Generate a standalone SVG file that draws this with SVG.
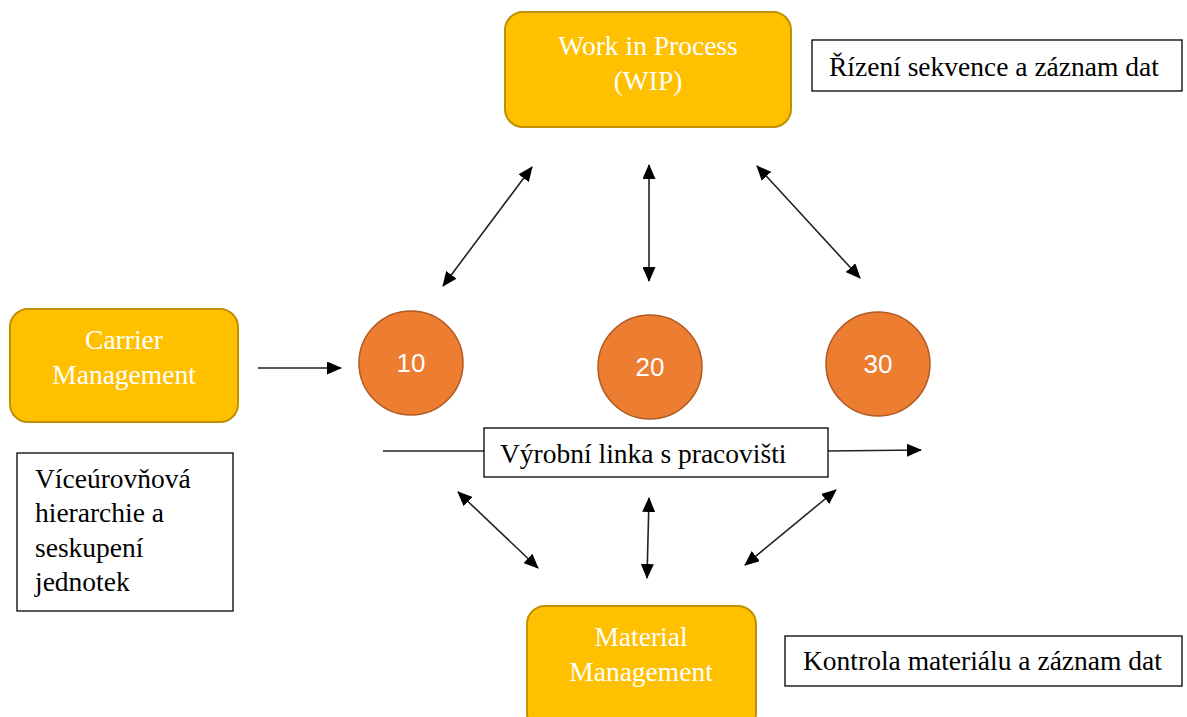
<svg xmlns="http://www.w3.org/2000/svg" width="1187" height="717" viewBox="0 0 1187 717">
  <defs>
    <marker id="head" viewBox="0 0 15 13" refX="14" refY="6.5" markerWidth="15" markerHeight="13" markerUnits="userSpaceOnUse" orient="auto-start-reverse">
      <path d="M0,0 L15,6.5 L0,13 Z" fill="#000"/>
    </marker>
    <style>
      .mod { fill: #FFC000; stroke: #BF9000; stroke-width: 2; }
      .modtxt { font-family: "Liberation Serif", "Times New Roman", serif; font-size: 27.5px; fill: #fff; text-anchor: middle; }
      .note { fill: #fff; stroke: #000; stroke-width: 1.3; }
      .notetxt { font-family: "Liberation Serif", "Times New Roman", serif; font-size: 27.5px; fill: #000; }
      .station { fill: #ED7D31; stroke: #AE5A21; stroke-width: 1.5; }
      .sttxt { font-family: "Liberation Sans", Arial, sans-serif; font-size: 26px; fill: #fff; text-anchor: middle; }
      .link { stroke: #222; stroke-width: 1.6; fill: none; }
      .two { marker-start: url(#head); marker-end: url(#head); }
      .one { marker-end: url(#head); }
    </style>
  </defs>
  <rect width="1187" height="717" fill="#fff"/>

  <!-- connectors -->
  <g id="connectors">
    <line class="link two" x1="443" y1="286" x2="532" y2="167"/>
    <line class="link two" x1="649" y1="165" x2="649" y2="281"/>
    <line class="link two" x1="757" y1="166" x2="860" y2="278"/>
    <line class="link one" x1="258" y1="368" x2="341" y2="368"/>
    <line class="link" x1="383" y1="451" x2="485" y2="451"/>
    <line class="link one" x1="828" y1="451" x2="921" y2="450"/>
    <line class="link two" x1="458" y1="492" x2="538" y2="568"/>
    <line class="link two" x1="649" y1="498" x2="647" y2="578"/>
    <line class="link two" x1="836" y1="490" x2="745" y2="565"/>
  </g>

  <!-- Work in Process -->
  <g id="wip">
    <rect class="mod" x="505" y="12" width="286" height="115" rx="18"/>
    <text class="modtxt" x="648" y="55">Work in Process</text>
    <text class="modtxt" x="648" y="90">(WIP)</text>
  </g>
  <g id="note-wip">
    <rect class="note" x="812" y="40" width="370" height="51"/>
    <text class="notetxt" x="829" y="76">Řízení sekvence a záznam dat</text>
  </g>

  <!-- Carrier Management -->
  <g id="carrier">
    <rect class="mod" x="10" y="309" width="228" height="113" rx="18"/>
    <text class="modtxt" x="124" y="349">Carrier</text>
    <text class="modtxt" x="124" y="384">Management</text>
  </g>
  <g id="note-carrier">
    <rect class="note" x="17" y="453" width="216" height="158"/>
    <text class="notetxt" x="35" y="488">Víceúrovňová</text>
    <text class="notetxt" x="35" y="522">hierarchie a</text>
    <text class="notetxt" x="35" y="557">seskupení</text>
    <text class="notetxt" x="35" y="591">jednotek</text>
  </g>

  <!-- stations -->
  <g id="station-10">
    <circle class="station" cx="411" cy="363" r="52"/>
    <text class="sttxt" x="411" y="372">10</text>
  </g>
  <g id="station-20">
    <circle class="station" cx="650" cy="367" r="52"/>
    <text class="sttxt" x="650" y="376">20</text>
  </g>
  <g id="station-30">
    <circle class="station" cx="878" cy="364" r="52"/>
    <text class="sttxt" x="878" y="373">30</text>
  </g>

  <!-- production line -->
  <g id="line">
    <rect class="note" x="484" y="428" width="344" height="49"/>
    <text class="notetxt" x="500" y="463">Výrobní linka s pracovišti</text>
  </g>

  <!-- Material Management -->
  <g id="material">
    <rect class="mod" x="527" y="606" width="229" height="125" rx="18"/>
    <text class="modtxt" x="641" y="646">Material</text>
    <text class="modtxt" x="641" y="681">Management</text>
  </g>
  <g id="note-material">
    <rect class="note" x="785" y="636" width="397" height="50"/>
    <text class="notetxt" x="803" y="670">Kontrola materiálu a záznam dat</text>
  </g>
</svg>
